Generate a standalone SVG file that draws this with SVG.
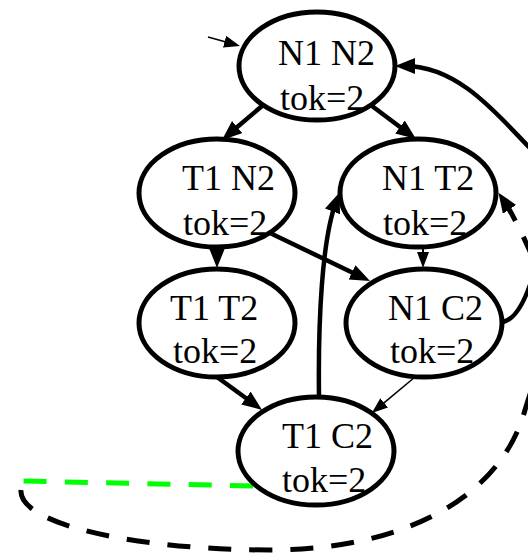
<svg xmlns="http://www.w3.org/2000/svg" width="528" height="554" viewBox="0 0 528 554">
  <style>
    .node ellipse { fill: #ffffff; stroke: #000000; stroke-width: 5; }
    .node text { font-family: "Liberation Serif", "Times New Roman", serif; font-size: 36px; fill: #000000; }
    .edge { fill: none; stroke: #000000; }
    .thick { stroke-width: 4.5; marker-end: url(#arrowBig); }
    .thin { stroke-width: 1.6; marker-end: url(#arrowSmall); }
    .dash { stroke-width: 5; stroke-dasharray: 23 18; }
  </style>
  <defs>
    <marker id="arrowBig" markerUnits="userSpaceOnUse" markerWidth="22" markerHeight="18" refX="10" refY="8" orient="auto">
      <path d="M0,0 L20,8 L0,16 z" fill="#000000"/>
    </marker>
    <marker id="arrowSmall" markerUnits="userSpaceOnUse" markerWidth="18" markerHeight="14" refX="8" refY="6" orient="auto">
      <path d="M0,0 L16,6 L0,12 z" fill="#000000"/>
    </marker>
  </defs>

  <g id="edges">
    <!-- initial state marker -->
    <path class="edge thin" d="M208,37 L232.3,43.8"/>
    <path class="edge thick" d="M262,106 L229.6,133.5"/>
    <path class="edge thick" d="M372,106 L408,133"/>
    <path class="edge thick" d="M217,247 L217,258"/>
    <path class="edge thick" d="M270,233 L361,276.7"/>
    <path class="edge" style="stroke-width:2; marker-end:url(#arrowSmall)" d="M423,247 L423,260"/>
    <path class="edge thick" d="M217,377 L254,404"/>
    <path class="edge thin" d="M415,377 L378,407.9"/>
    <path class="edge thick" d="M319,397 C318,320 322,240 336,202"/>
    <!-- loop from N1 C2 back to N1 N2, running past the right border -->
    <path class="edge thick" d="M503,322 C516,319 526,300 534,272 C555,200 560,165 530,148 C500,118 460,66 405,66"/>
    <!-- dashed loop back to N1 T2 -->
    <path class="edge" d="M253,486 L22,481" style="stroke:#00ff00; stroke-width:5; stroke-dasharray:23 18.3"/>
    <path class="edge dash" style="marker-end:url(#arrowBig)" d="M21,490 C18,525 140,550 270,550 C400,550 500,500 525,410 C540,360 560,320 545,285 C535,262 525,240 520,230 C514,218 510,210 504,201"/>
  </g>

  <g id="n1n2" class="node">
    <ellipse cx="317" cy="66" rx="78" ry="54"/>
    <text x="278" y="65">N1 N2</text>
    <text x="280" y="110">tok=2</text>
  </g>
  <g id="t1n2" class="node">
    <ellipse cx="217" cy="193" rx="78" ry="54"/>
    <text x="182" y="190">T1 N2</text>
    <text x="183" y="235">tok=2</text>
  </g>
  <g id="n1t2" class="node">
    <ellipse cx="418" cy="193" rx="78" ry="54"/>
    <text x="382" y="190">N1 T2</text>
    <text x="383" y="235">tok=2</text>
  </g>
  <g id="t1t2" class="node">
    <ellipse cx="217" cy="323" rx="78" ry="54"/>
    <text x="170" y="320">T1 T2</text>
    <text x="173" y="363">tok=2</text>
  </g>
  <g id="n1c2" class="node">
    <ellipse cx="424" cy="323" rx="78" ry="54"/>
    <text x="388" y="320">N1 C2</text>
    <text x="390" y="363">tok=2</text>
  </g>
  <g id="t1c2" class="node">
    <ellipse cx="316" cy="451" rx="78" ry="54"/>
    <text x="282" y="448">T1 C2</text>
    <text x="282" y="492">tok=2</text>
  </g>
</svg>
